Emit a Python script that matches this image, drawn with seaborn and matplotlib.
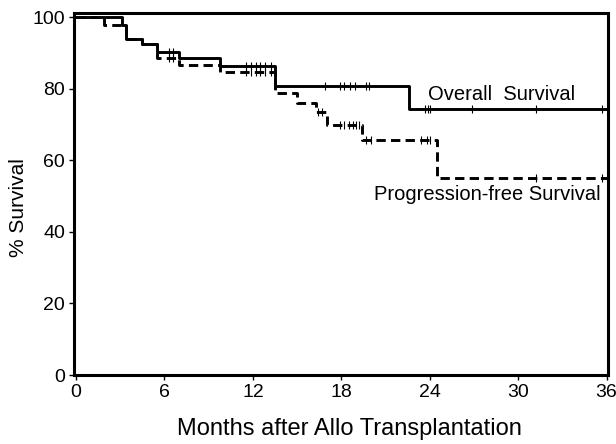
import numpy as np
import pandas as pd
import matplotlib
matplotlib.use("Agg")
import matplotlib.pyplot as plt
import seaborn as sns

# Kaplan-Meier step points (months, % survival)
os_months = [0, 3.1, 3.4, 4.5, 5.5, 7.0, 9.8, 13.5, 22.6, 36]
os_surv = [100, 97.8, 93.8, 92.5, 90.4, 88.5, 86.4, 80.8, 74.3, 74.3]

pfs_months = [0, 1.9, 3.4, 4.5, 5.5, 7.0, 9.8, 13.5, 15.0, 16.3, 17.0, 19.4, 24.5, 36]
pfs_surv = [100, 97.8, 93.8, 92.5, 88.5, 86.7, 84.8, 78.8, 76.1, 73.4, 69.9, 65.7, 55.0, 55.0]

# censoring ticks (months)
os_censor = [6.3, 6.6, 11.5, 11.9, 12.2, 12.5, 12.8, 13.2, 16.9, 17.9, 18.2,
             18.6, 18.9, 19.7, 19.9, 23.7, 23.9, 24.0, 26.9, 31.2, 35.7]
pfs_censor = [6.3, 6.6, 11.5, 11.9, 12.2, 12.5, 12.8, 13.2, 16.4, 16.7, 17.9,
              18.2, 18.5, 18.8, 19.0, 19.2, 19.7, 20.0, 23.4, 23.8, 24.0, 31.2, 35.7]

x_ticks = [0, 6, 12, 18, 24, 30, 36]
y_ticks = [0, 20, 40, 60, 80, 100]


def step_value(times, surv, t):
    idx = np.searchsorted(times, t, side="right") - 1
    return surv[idx]


sns.set_theme(style="ticks")
plt.rcParams['font.family'] = ['Liberation Sans', 'DejaVu Sans']
plt.rcParams.update({'text.color': 'black', 'axes.labelcolor': 'black',
                     'xtick.color': 'black', 'ytick.color': 'black'})

fig = plt.figure(figsize=(6.16, 4.44), dpi=100)
ax = fig.add_axes([0.1201, 0.1554, 0.867, 0.8146])

os_df = pd.DataFrame({'month': os_months, 'surv': os_surv})
pfs_df = pd.DataFrame({'month': pfs_months, 'surv': pfs_surv})

sns.lineplot(data=os_df, x='month', y='surv', ax=ax, color='black',
             linewidth=2.1, drawstyle='steps-post', estimator=None)
sns.lineplot(data=pfs_df, x='month', y='surv', ax=ax, color='black',
             linewidth=2.1, drawstyle='steps-post', estimator=None,
             linestyle=(0, (3.2, 1.8)))

os_c = pd.DataFrame({'month': os_censor,
                     'surv': [step_value(os_months, os_surv, t) for t in os_censor]})
pfs_c = pd.DataFrame({'month': pfs_censor,
                      'surv': [step_value(pfs_months, pfs_surv, t) for t in pfs_censor]})
sns.scatterplot(data=os_c, x='month', y='surv', ax=ax, marker='|', s=30,
                color='black', linewidth=0.8)
sns.scatterplot(data=pfs_c, x='month', y='surv', ax=ax, marker='|', s=30,
                color='black', linewidth=0.8)

ax.text(28.9, 76.9, 'Overall  Survival', fontsize=14.5, ha='center', va='baseline')
ax.text(27.9, 48.9, 'Progression-free Survival', fontsize=14.5, ha='center', va='baseline')

ax.set_xlim(-0.14, 36.1)
ax.set_ylim(0, 101.1)
ax.set_xticks(x_ticks)
ax.set_yticks(y_ticks)
ax.tick_params(labelsize=14, length=3.5, width=1, color='black', labelcolor='black', pad=3)
ax.set_xlabel('Months after Allo Transplantation', fontsize=17)
ax.set_ylabel('% Survival', fontsize=15)
ax.xaxis.set_label_coords(0.515, -0.118)
ax.yaxis.set_label_coords(-0.086, 0.464)

for side in ['top', 'right', 'left', 'bottom']:
    ax.spines[side].set_visible(True)
    ax.spines[side].set_linewidth(2.2)
    ax.spines[side].set_color('black')

fig.savefig('out.png', dpi=100)
